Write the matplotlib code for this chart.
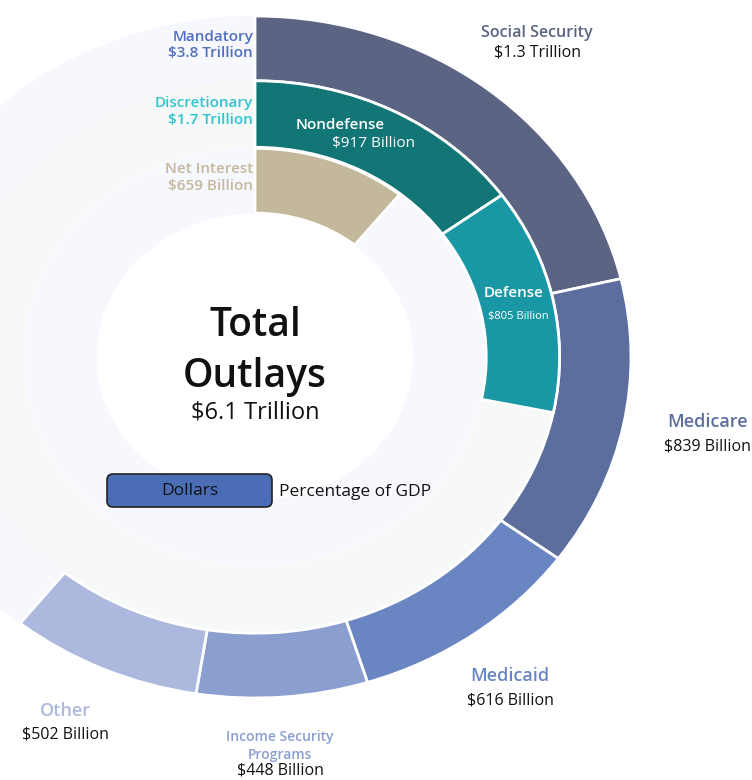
import matplotlib.pyplot as plt
from matplotlib.patches import FancyBboxPatch

plt.rcParams['font.family'] = ['Open Sans', 'DejaVu Sans']

# values in billions of dollars
total = 6100
mandatory_names = ['Social Security', 'Medicare', 'Medicaid', 'Income Security Programs', 'Other']
mandatory_vals = [1300, 839, 616, 448, 502]
mandatory_colors = ['#5b6482', '#5b6e9e', '#6a86c2', '#8a9ecf', '#adb8de']
discretionary_names = ['Nondefense', 'Defense']
discretionary_vals = [917, 805]
discretionary_colors = ['#127676', '#1a97a5']
interest_vals = [659]
interest_colors = ['#c4b89c']

W, H = 752, 780
CX, CY = 255, 357      # centre in pixels
RX, RY = 376, 341      # outer radius in pixels (chart is stretched sideways)

fig = plt.figure(figsize=(W / 100, H / 100), dpi=100)
ax = fig.add_axes([8 / W, 0, (W - 8) / W, 1])


def ring(vals, colors, rest_color, radius, width):
    v = list(vals) + [total - sum(vals)]
    c = list(colors) + [rest_color]
    wedges, _ = ax.pie(v, colors=c, radius=radius, startangle=90, counterclock=False,
                       wedgeprops=dict(width=width, edgecolor='white', linewidth=2))
    wedges[-1].set_edgecolor(rest_color)
    wedges[-1].set_linewidth(0.5)
    wedges[-1].set_zorder(0)
    return wedges


ring(mandatory_vals, mandatory_colors, '#f7f8fe', 1.0, 0.19)
ring(discretionary_vals, discretionary_colors, '#f7f9f9', 0.81, 0.195)
ring(interest_vals, interest_colors, '#f7f8fe', 0.612, 0.19)

ax.set_aspect('auto')
ax.set_xlim((8 - CX) / RX, (W - CX) / RX)
ax.set_ylim(-(H - CY) / RY, CY / RY)
ax.axis('off')


def label(x, y, s, color='#111111', size=11, weight='normal', ha='center'):
    fig.text(x / W, 1 - y / H, s, color=color, fontsize=size, fontweight=weight,
             ha=ha, va='center')


# left-side group labels
label(253, 37, 'Mandatory', '#4f6fc0', 11, 'semibold', 'right')
label(253, 53, '$3.8 Trillion', '#4f6fc0', 11, 'semibold', 'right')
label(253, 103, 'Discretionary', '#2ec4d0', 11, 'semibold', 'right')
label(253, 120, '$1.7 Trillion', '#2ec4d0', 11, 'semibold', 'right')
label(253, 169, 'Net Interest', '#c4b89c', 11, 'semibold', 'right')
label(253, 186, '$659 Billion', '#c4b89c', 11, 'semibold', 'right')

# mandatory categories
label(537, 33, 'Social Security', mandatory_colors[0], 11.5, 'semibold')
label(537, 53, '$1.3 Trillion', '#111111', 11.5)
label(708, 422, 'Medicare', mandatory_colors[1], 13, 'semibold')
label(707, 446, '$839 Billion', '#111111', 11.5)
label(510, 676, 'Medicaid', mandatory_colors[2], 13, 'semibold')
label(510, 700, '$616 Billion', '#111111', 11.5)
label(280, 737, 'Income Security', mandatory_colors[3], 10, 'semibold')
label(280, 755, 'Programs', mandatory_colors[3], 10, 'semibold')
label(280, 770, '$448 Billion', '#111111', 11.5)
label(65, 711, 'Other', mandatory_colors[4], 13, 'semibold')
label(65, 735, '$502 Billion', '#111111', 11.5)

# discretionary categories (inside the ring)
label(340, 125, 'Nondefense', 'white', 11, 'semibold')
label(373, 144, '$917 Billion', 'white', 11)
label(514, 293, 'Defense', 'white', 11, 'semibold')
label(518, 316, '$805 Billion', 'white', 8)

# centre
label(255, 326, 'Total', '#111111', 28, 'semibold')
label(255, 377, 'Outlays', '#111111', 28, 'semibold')
label(255, 412, '$6.1 Trillion', '#111111', 17)

# toggle buttons
btn = FancyBboxPatch((107 / W, 1 - 507 / H), 165 / W, 33 / H,
                     boxstyle='round,pad=0,rounding_size=0.008',
                     mutation_aspect=W / H, transform=fig.transFigure,
                     facecolor='#4a6db5', edgecolor='#222222', linewidth=1.2)
fig.patches.append(btn)
label(190, 491, 'Dollars', '#111111', 12.5)
label(279, 492, 'Percentage of GDP', '#111111', 12.5, ha='left')

fig.savefig('out.png', dpi=100)
